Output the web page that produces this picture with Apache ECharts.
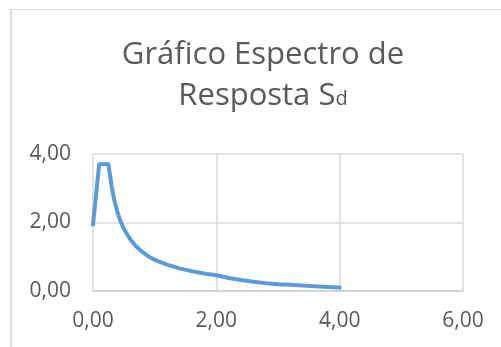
<!DOCTYPE html>
<html>
<head>
<meta charset="utf-8">
<script src="https://cdn.jsdelivr.net/npm/echarts@6/dist/echarts.min.js"></script>
<style>
  html, body { margin: 0; padding: 0; background: #fff; }
  #chart { width: 501px; height: 347px; }
</style>
</head>
<body>
<div id="chart"></div>
<script>
// Period T (s) and design spectral acceleration Sd
const periods = [0, 0.10, 0.15, 0.20, 0.25, 0.30, 0.35, 0.40, 0.45, 0.50, 0.60, 0.70, 0.80, 0.90, 1.00,
                 1.20, 1.40, 1.60, 1.80, 2.00, 2.20, 2.40, 2.60, 2.80, 3.00, 3.20, 3.40, 3.60, 3.80, 4.00];
const sdValues = [1.94, 3.70, 3.70, 3.70, 3.70, 3.08, 2.62, 2.28, 2.02, 1.82, 1.52, 1.30, 1.14, 1.01, 0.91,
                  0.77, 0.66, 0.58, 0.51, 0.46, 0.38, 0.32, 0.27, 0.23, 0.20, 0.18, 0.16, 0.14, 0.12, 0.10];
const titleLines = ['Gráfico Espectro de', 'Resposta S', 'd'];

const FONT = '"Open Sans", sans-serif';
const TEXT = '#595959';
const GRID = '#D9D9D9';
const fmt = v => v.toFixed(2).replace('.', ',');

const chart = echarts.init(document.getElementById('chart'), null, { renderer: 'canvas' });
chart.setOption({
  animation: false,
  backgroundColor: '#fff',
  title: {
    text: '{a|' + titleLines[0] + '}\n{a|' + titleLines[1] + '}{b|' + titleLines[2] + '}',
    left: 258,
    top: 30,
    textAlign: 'center',
    textStyle: {
      fontWeight: 'normal',
      rich: {
        a: { fontFamily: FONT, fontSize: 31, fontWeight: 'normal', color: TEXT, lineHeight: 41 },
        // small "d" kept on the baseline of "S"
        b: { fontFamily: FONT, fontSize: 20, fontWeight: 'normal', color: TEXT, lineHeight: 41,
             verticalAlign: 'middle', padding: [6, 0, 0, 0] }
      }
    }
  },
  grid: { left: 93, right: 38, top: 154, bottom: 56, containLabel: false },
  xAxis: {
    type: 'value', min: 0, max: 6, interval: 2,
    axisLine: { show: true, lineStyle: { color: '#CFCFCF', width: 1.5 } },
    axisTick: { show: false },
    axisLabel: { formatter: fmt, fontFamily: FONT, fontSize: 21, color: TEXT, margin: 20 },
    splitLine: { show: true, lineStyle: { color: GRID, width: 1.5 } }
  },
  yAxis: {
    type: 'value', min: 0, max: 4, interval: 2,
    axisLine: { show: false },
    axisTick: { show: false },
    axisLabel: { formatter: fmt, fontFamily: FONT, fontSize: 21, color: TEXT, margin: 22 },
    splitLine: { show: true, lineStyle: { color: GRID, width: 1.5 } }
  },
  series: [{
    type: 'line',
    data: periods.map((t, i) => [t, sdValues[i]]),
    showSymbol: false,
    smooth: false,
    lineStyle: { color: '#5B9BD5', width: 4, cap: 'round', join: 'round' }
  }],
  graphic: [
    { type: 'line', shape: { x1: 11, y1: 9, x2: 11, y2: 347 }, style: { stroke: '#D9D9D9', lineWidth: 2 } },
    { type: 'line', shape: { x1: 10, y1: 9.5, x2: 501, y2: 9.5 }, style: { stroke: '#D9D9D9', lineWidth: 1 } }
  ]
});
</script>
</body>
</html>
